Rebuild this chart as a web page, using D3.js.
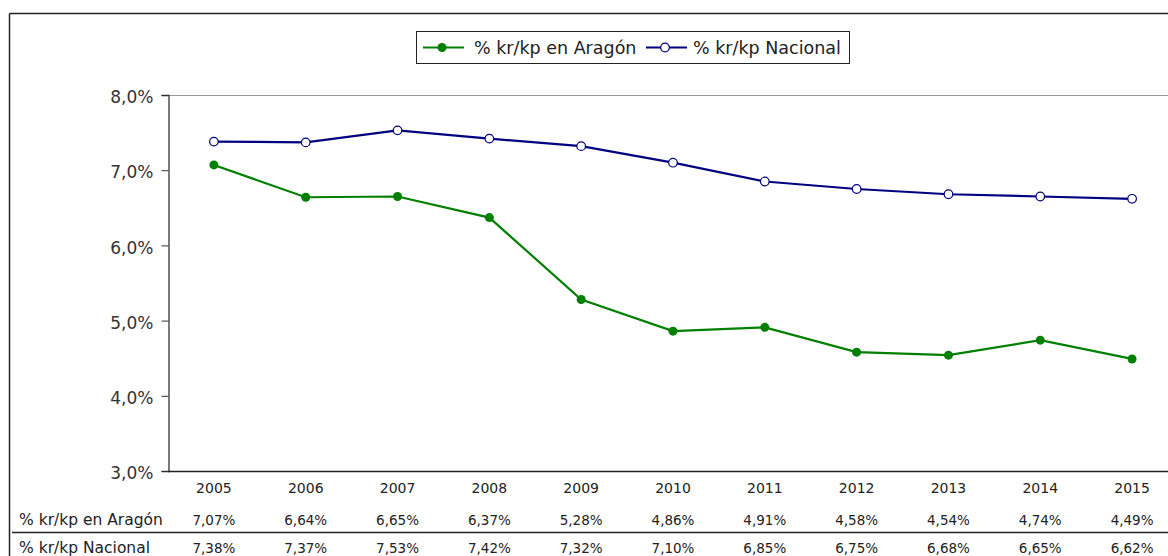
<!DOCTYPE html>
<html>
<head>
<meta charset="utf-8">
<script src="https://cdn.jsdelivr.net/npm/d3@7"></script>
<style>
  body { margin: 0; background: #fff; }
  svg { display: block; font-family: "DejaVu Sans", sans-serif; }
</style>
</head>
<body>
<svg width="1168" height="556"></svg>
<script>
// data
var years = ["2005","2006","2007","2008","2009","2010","2011","2012","2013","2014","2015"];
var aragon = [7.07, 6.64, 6.65, 6.37, 5.28, 4.86, 4.91, 4.58, 4.54, 4.74, 4.49];
var nacional = [7.38, 7.37, 7.53, 7.42, 7.32, 7.10, 6.85, 6.75, 6.68, 6.65, 6.62];
var seriesNames = ["% kr/kp en Aragón", "% kr/kp Nacional"];
var yTicks = [3, 4, 5, 6, 7, 8];

var svg = d3.select("svg");
var fmt = function(v) { return v.toFixed(2).replace(".", ",") + "%"; };

// outer frame (only top and left visible in the crop)
svg.append("line").attr("x1", 9.5).attr("x2", 1168).attr("y1", 13.5).attr("y2", 13.5)
  .attr("stroke", "#222").attr("stroke-width", 1.5);
svg.append("line").attr("x1", 9.5).attr("x2", 9.5).attr("y1", 13.5).attr("y2", 556)
  .attr("stroke", "#222").attr("stroke-width", 1.5);

var plotLeft = 168, plotTop = 95, plotBottom = 471, plotW = 1010;

var x = d3.scaleBand().domain(years).range([plotLeft, plotLeft + plotW]);
var y = d3.scaleLinear().domain([3, 8]).range([plotBottom, plotTop]);

// top border of plot area
svg.append("line").attr("x1", plotLeft).attr("x2", 1168).attr("y1", plotTop + 0.5).attr("y2", plotTop + 0.5)
  .attr("stroke", "#999").attr("stroke-width", 1);

// y axis
var yAxis = svg.append("g").attr("transform", "translate(" + (plotLeft + 0.5) + ",0)")
  .call(d3.axisLeft(y).tickValues(yTicks).tickSize(7).tickPadding(8)
    .tickFormat(function(d) { return d.toFixed(1).replace(".", ",") + "%"; }));
yAxis.select(".domain").attr("stroke", "#333").attr("stroke-width", 1.3);
yAxis.selectAll(".tick line").attr("stroke", "#333");
yAxis.selectAll("text").attr("font-size", 17).attr("fill", "#333").attr("dy", "0.45em")
  .attr("font-family", "'DejaVu Sans', sans-serif");

// x axis line
svg.append("line").attr("x1", plotLeft).attr("x2", 1168).attr("y1", plotBottom + 0.5).attr("y2", plotBottom + 0.5)
  .attr("stroke", "#222").attr("stroke-width", 1.5);

// year labels
svg.selectAll(".year").data(years).enter().append("text")
  .attr("x", function(d) { return x(d) + x.bandwidth() / 2; })
  .attr("y", 493)
  .attr("text-anchor", "middle").attr("font-size", 14).attr("fill", "#222")
  .text(function(d) { return d; });

// data table rows
var rows = [aragon, nacional];
var rowY = [525, 553];
rows.forEach(function(vals, r) {
  svg.append("text").attr("x", 19).attr("y", rowY[r]).attr("font-size", 15.5).attr("fill", "#222")
    .text(seriesNames[r]);
  svg.selectAll(".cell" + r).data(vals).enter().append("text")
    .attr("x", function(d, i) { return x(years[i]) + x.bandwidth() / 2; })
    .attr("y", rowY[r])
    .attr("text-anchor", "middle").attr("font-size", 13.5).attr("fill", "#222")
    .text(function(d) { return fmt(d); });
});
svg.append("line").attr("x1", 12).attr("x2", 1168).attr("y1", 532.5).attr("y2", 532.5)
  .attr("stroke", "#222").attr("stroke-width", 1.3);

// lines
var line = d3.line()
  .x(function(d, i) { return x(years[i]) + x.bandwidth() / 2; })
  .y(function(d) { return y(d); });

var colors = ["#008000", "#000080"];
svg.append("path").datum(nacional).attr("d", line).attr("fill", "none")
  .attr("stroke", colors[1]).attr("stroke-width", 2.2);
svg.append("path").datum(aragon).attr("d", line).attr("fill", "none")
  .attr("stroke", colors[0]).attr("stroke-width", 2.2);

svg.selectAll(".pn").data(nacional).enter().append("circle")
  .attr("cx", function(d, i) { return x(years[i]) + x.bandwidth() / 2; })
  .attr("cy", function(d) { return y(d); })
  .attr("r", 4.3).attr("fill", "#fff").attr("stroke", colors[1]).attr("stroke-width", 1.2);
svg.selectAll(".pa").data(aragon).enter().append("circle")
  .attr("cx", function(d, i) { return x(years[i]) + x.bandwidth() / 2; })
  .attr("cy", function(d) { return y(d); })
  .attr("r", 4.5).attr("fill", colors[0]);

// legend
var lg = svg.append("g");
lg.append("rect").attr("x", 416.5).attr("y", 31.5).attr("width", 433).attr("height", 32)
  .attr("fill", "#fff").attr("stroke", "#222").attr("stroke-width", 1);
var legX = [423, 646];
var legTextX = [51, 47];
seriesNames.forEach(function(name, i) {
  var g = lg.append("g").attr("transform", "translate(" + legX[i] + ",47.5)");
  g.append("line").attr("x1", 0).attr("x2", 41).attr("stroke", colors[i]).attr("stroke-width", 2);
  if (i == 0) g.append("circle").attr("cx", 19).attr("r", 4.5).attr("fill", colors[0]);
  else g.append("circle").attr("cx", 19).attr("r", 4.3).attr("fill", "#fff")
    .attr("stroke", colors[1]).attr("stroke-width", 1.2);
  g.append("text").attr("x", legTextX[i]).attr("y", 6).attr("font-size", 17.5).attr("fill", "#222").text(name);
});
</script>
</body>
</html>
